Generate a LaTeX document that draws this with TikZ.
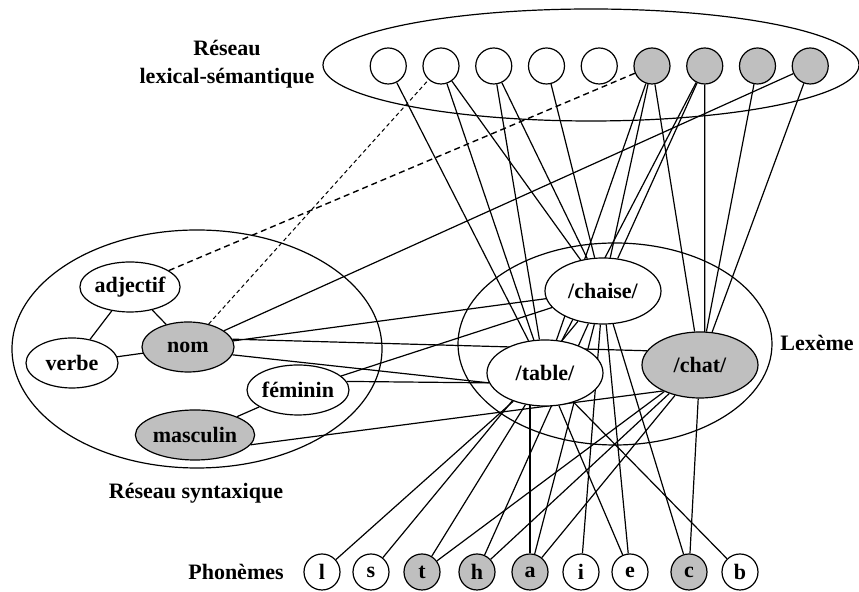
\documentclass[tikz,border=0pt]{standalone}
\usepackage{fontspec}
\setmainfont{Liberation Serif}
\usetikzlibrary{shapes.geometric,backgrounds}
\definecolor{grisnoeud}{RGB}{191,191,191}

\begin{document}
\begin{tikzpicture}[x=50pt,y=-50pt,
  every node/.style={font=\bfseries\fontsize{11}{14}\selectfont},
  cadre/.style={line width=0.6pt},
  lien/.style={line width=0.6pt},
  sem/.style={draw,circle,line width=0.6pt,minimum size=18pt,inner sep=0pt},
  syn/.style={draw,ellipse,fill=white,line width=0.6pt,minimum width=46pt,minimum height=25pt,inner sep=0pt},
  lex/.style={draw,ellipse,fill=white,line width=0.6pt,minimum width=58pt,minimum height=33pt,inner sep=0pt},
  phon/.style={draw,circle,line width=0.6pt,minimum size=18pt,inner sep=0pt},
  actif/.style={fill=grisnoeud}]

  \useasboundingbox (0,0) rectangle (8.59,5.92);

  \begin{scope}   % reseau lexical-semantique

    \def\Sy{0.66};
    \draw[cadre] (5.91,0.65) ellipse (2.68 and 0.56);
    \node[align=center] (titresem) at (2.27,0.64) {Réseau\\lexical-sémantique};

    \foreach \i/\f in {1/white,2/white,3/white,4/white,5/white,
                       6/grisnoeud,7/grisnoeud,8/grisnoeud,9/grisnoeud}
    {
      \node[sem,fill=\f] (S\i) at ({3.355+0.5275*\i},\Sy) {};
    }

  \end{scope}

  \begin{scope}   % reseau syntaxique

    \draw[cadre] (1.97,3.49) ellipse (1.85 and 1.19);
    \node[syn] (adj) at (1.30,2.87) {adjectif};
    \node[syn] (verbe) at (0.72,3.63) {verbe};
    \node[syn,actif] (nom) at (1.88,3.47) {nom};
    \node[syn] (fem) at (2.98,3.90) {féminin};
    \node[syn,actif] (masc) at (1.95,4.35) {masculin};
    \node (titresyn) at (1.96,4.93) {Réseau syntaxique};

  \end{scope}

  \begin{scope}   % lexemes

    \draw[cadre] (6.15,3.44) ellipse (1.57 and 1.01);
    \node[lex] (chaise) at (6.03,2.91) {/chaise/};
    \node[lex] (table) at (5.45,3.73) {/table/};
    \node[lex,actif] (chat) at (7.00,3.65) {/chat/};
    \node (titrelex) at (8.17,3.43) {Lexème};

  \end{scope}

  \begin{scope}   % phonemes

    \def\Py{5.72};
    \node (titrephon) at (2.36,\Py) {Phonèmes};
    \foreach \n/\x/\f in {l/3.22/white,s/3.71/white,t/4.22/grisnoeud,
                          h/4.77/grisnoeud,a/5.30/grisnoeud,i/5.81/white,
                          e/6.30/white,c/6.89/grisnoeud,b/7.40/white}
    {
      \node[phon,fill=\f] (p\n) at (\x,\Py) {\n};
    }

  \end{scope}

  \begin{pgfonlayer}{background}

    \draw[lien] (adj)--(verbe) (adj)--(nom) (verbe)--(nom) (fem)--(masc);
    \draw[line width=0.7pt,dash pattern=on 3pt off 2pt] (adj)--(S6);
    \draw[line width=0.5pt,dash pattern=on 2pt off 1.5pt] (nom)--(S2);
    \draw[lien] (nom)--(S9);
    \draw[lien] (nom)--(chaise) (nom.10)--(chat.165) (nom.-10)--(table.190);
    \draw[lien] (fem)--(chaise) (fem.10)--(table.190);
    \draw[lien] (masc.-10)--(chat.215);

    \foreach \s in {1,2,3,6,7} \draw[lien] (S\s)--(table);
    \foreach \s in {2,3,4,6} \draw[lien] (S\s)--(chaise);
    \draw[lien] (S7)--(chaise) (S7)--(S7 |- chat);
    \foreach \s in {6,8,9} \draw[lien] (S\s)--(chat);

    \foreach \p in {l,t,e,b} \draw[lien] (table)--(p\p);
    \draw[lien] (pa)--(pa |- table);
    \foreach \p in {s,h,a,i,e,c} \draw[lien] (chaise)--(p\p);
    \foreach \p in {t,h,a,c} \draw[lien] (chat)--(p\p);

  \end{pgfonlayer}

\end{tikzpicture}
\end{document}
